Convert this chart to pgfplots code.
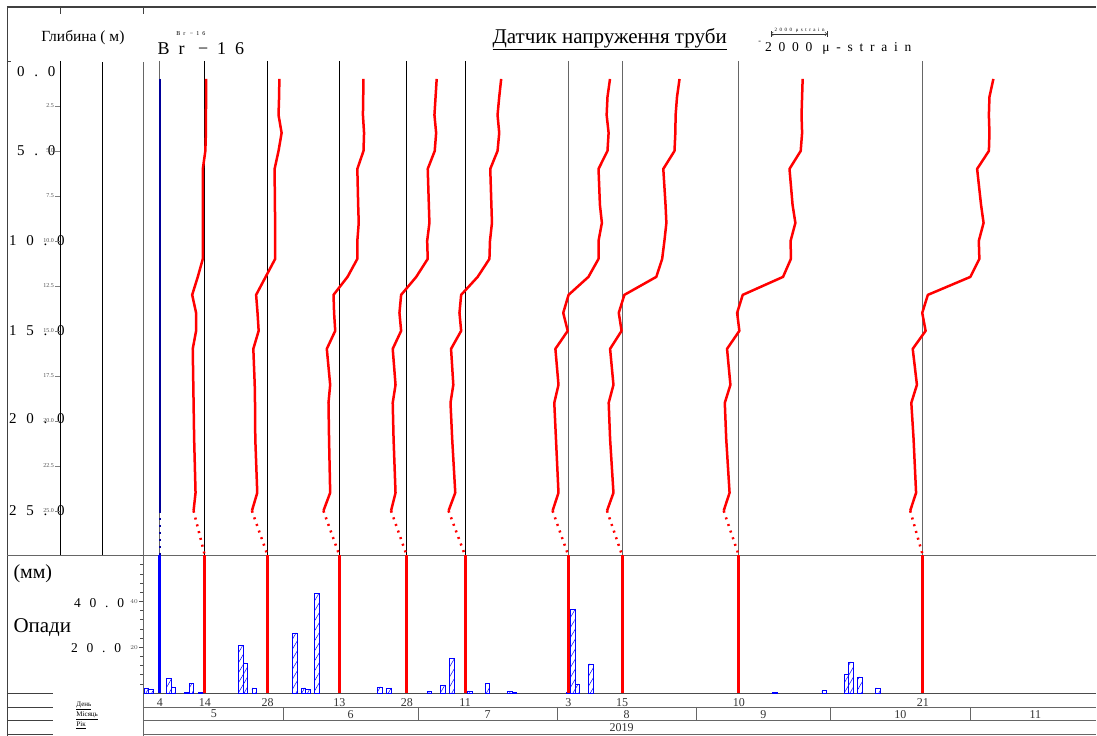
\documentclass[border=0pt]{standalone}
\usepackage{fontspec}
\setmainfont{Liberation Serif}
\newfontfamily\spaced[LetterSpace=50]{Liberation Serif}
\newfontfamily\wide[LetterSpace=65]{Liberation Serif}
\usepackage{pgfplots}
\usepackage{pgfplotstable}
\pgfplotsset{compat=1.18}
\usetikzlibrary{patterns.meta}

% strain profiles (micro-strain) against depth (m), one column per reading
\pgfplotstableread{
depth p1   p2   p3   p4   p5   p6   p7   p8   p9
1     50   420  860  1070 1290 1490 2050 2280 2520
2     50   410  850  1030 1220 1400 1960 2260 2380
3     40   390  840  990  1160 1370 1910 2240 2360
4     40   500  880  1050 1220 1440 1900 2260 2380
5     20   390  860  1000 1160 1400 1870 2210 2360
6     -70  250  640  750  900  1080 1470 1810 1940
8     -70  260  670  790  940  1130 1550 1920 2080
9     -70  270  690  810  960  1200 1580 2020 2170
10    -70  270  640  730  890  1080 1510 1850 2000
11    -70  270  640  750  870  1080 1430 1860 2020
12    -250 -70  290  340  450  720  1220 1580 1700
13    -450 -410 -210 -200 -140 10   80   140  180
14    -310 -360 -190 -260 -200 -180 -120 -60  -20
15    -310 -320 -150 -200 -140 -20  -20  20   100
16    -430 -510 -450 -500 -500 -460 -430 -420 -360
18    -410 -460 -330 -400 -420 -350 -310 -300 -210
19    -400 -450 -390 -500 -520 -500 -480 -500 -410
21    -380 -440 -370 -470 -460 -440 -430 -450 -330
24    -330 -370 -330 -400 -350 -350 -310 -330 -240
25    -400 -560 -570 -560 -590 -560 -540 -540 -450
}\profiles

% dotted part down to the pipe bottom
\pgfplotstableread{
depth p1   p2   p3   p4   p5   p6   p7   p8   p9
25    -400 -560 -570 -560 -590 -560 -540 -540 -450
27.48 0    0    0    0    0    0    0    0    0
}\tails

% daily rainfall (mm), day 0 = 1 May 2019
\pgfplotstableread{
day mm
0   2.2
1   1.4
5   6.2
6   2.6
9   0.4
10  4.1
12  0.4
21  20.8
22  13.1
24  2.2
33  26.2
35  2.2
36  1.6
38  43.4
52  2.6
54  2.2
63  0.7
66  3.2
68  15.3
72  0.7
76  4.1
81  0.7
82  0.4
94  0.4
95  36.7
96  3.9
99  12.7
140 0.3
151 1.1
156 8.0
157 13.5
159 7.0
163 2.2
}\rain

% micro-strain -> days on the time axis (2000 micro-strain = 56 px)
\newcommand{\strainscale}{0.00624}
\newcommand{\prof}[2]{%
  \addplot[red, line width=2.5pt, line join=round] table[x expr=#1+\thisrow{#2}*\strainscale, y=depth]{\profiles};
  \addplot[red, line width=2.5pt, dash pattern=on 2pt off 5pt] table[x expr=#1+\thisrow{#2}*\strainscale, y=depth]{\tails};
}

\begin{document}
\begin{tikzpicture}
\begin{scope}[x=1pt,y=1pt]
\path (0,0) rectangle (1097,736);

% frame
\draw[black!75, line width=1.2pt] (7,729) -- (1097,729);
\draw[black!75, line width=0.8pt] (7,729) -- (7,0);
\draw[black!75] (7,675) -- (11,675);
\draw[black!75] (60,729) -- (60,722);
\draw[black!75] (143,729) -- (143,722);
\draw[black!60, line width=0.8pt] (7,180.3) -- (1097,180.3);
\draw[black, line width=0.7pt] (102,180.3) -- (102,674);
\draw[black!60, line width=0.8pt] (143,0) -- (143,674);
\foreach \yy in {42.7,28.7,15,1} \draw[black!75, line width=0.8pt] (7,\yy) -- (53,\yy);
\foreach \yy in {28.7,15,1} \draw[black!60, line width=0.8pt] (143,\yy) -- (1097,\yy);
\foreach \xx in {283.5,418.2,557.4,696.6,831.3,970.5} \draw[black!60, line width=0.8pt] (\xx,28.7) -- (\xx,15);

% months and year
\foreach \xx/\m in {213.9/5,350.8/6,487.8/7,627/8,763.9/9,900.8/10,1036/11}
  \node[font=\fontsize{12}{12}\selectfont, black!80] at (\xx,21.5) {\m};
\node[font=\fontsize{12}{12}\selectfont, black!80] at (622,8) {2019};
\node[font=\fontsize{7}{7}\selectfont, anchor=west] at (73,30) {\underline{День}};
\node[font=\fontsize{7}{7}\selectfont, anchor=west] at (73,20) {\underline{Місяць}};
\node[font=\fontsize{7}{7}\selectfont, anchor=west] at (73,10) {\underline{Рік}};

% titles
\node[font=\fontsize{15.5}{15.5}\selectfont] at (83,698) {Глибина ( м)};
\node[font=\fontsize{21}{21}\selectfont] at (610,697) {\underline{Датчик напруження труби}};
\node[font=\spaced\fontsize{18}{18}\selectfont] at (201,687) {Br −16};
\node[font=\spaced\fontsize{6}{6}\selectfont] at (191,702) {Br −16};
\node[font=\spaced\fontsize{13.5}{13.5}\selectfont, anchor=west] at (762,688) {2000 μ-strain};
\node[font=\fontsize{8}{8}\selectfont] at (760,694) {-};
\node[font=\spaced\fontsize{5}{5}\selectfont] at (800,706) {2000 μstrain};
\draw[|<->|, black!80, line width=0.6pt] (771,702) -- (828,702);

% depth labels
\foreach \yy/\t in {664/0.0,585/5.0}
  \node[font=\wide\fontsize{15}{15}\selectfont, anchor=west, inner sep=0pt] at (17,\yy) {\t};
\foreach \yy/\t in {495/10.0,405/15.0,317/20.0,225/25.0}
  \node[font=\wide\fontsize{15}{15}\selectfont, anchor=west, inner sep=0pt] at (9,\yy) {\t};
\node[font=\fontsize{20}{20}\selectfont, anchor=west] at (10,162) {(мм)};
\node[font=\fontsize{21}{21}\selectfont, anchor=west] at (10,108) {Опади};
\node[font=\wide\fontsize{13.5}{13.5}\selectfont, anchor=west, inner sep=0pt] at (74,133) {40.0};
\node[font=\wide\fontsize{13.5}{13.5}\selectfont, anchor=west, inner sep=0pt] at (71,88) {20.0};
\end{scope}

% depth panel
\begin{axis}[
  at={(60pt,180.3pt)}, anchor=south west,
  width=1037pt, height=494.7pt, scale only axis,
  xmin=-19.27, xmax=211.68, ymin=0, ymax=27.48, y dir=reverse,
  axis x line=none, axis y line*=left,
  y axis line style={black, line width=0.7pt},
  ytick={2.5,5,7.5,10,12.5,15,17.5,20,22.5,25},
  yticklabels={2.5,5.0,7.5,10.0,12.5,15.0,17.5,20.0,22.5,25.0},
  yticklabel style={font=\fontsize{6}{6}\selectfont, black!70, inner sep=1pt},
  tick align=outside, major tick length=5pt,
  clip=false,
]
\addplot[black, line width=0.8pt, ycomb] coordinates {(13,27.48) (27,27.48) (43,27.48) (58,27.48) (71,27.48)};
\addplot[black!60, line width=1pt, ycomb] coordinates {(3,27.48) (94,27.48) (106,27.48) (132,27.48) (173,27.48)};
\addplot[blue!60!black, line width=2.5pt] coordinates {(3,1) (3,25)};
\addplot[blue!60!black, line width=2.5pt, dash pattern=on 2pt off 5pt] coordinates {(3,25) (3,27.48)};
\prof{13}{p1}
\prof{27}{p2}
\prof{43}{p3}
\prof{58}{p4}
\prof{71}{p5}
\prof{94}{p6}
\prof{106}{p7}
\prof{132}{p8}
\prof{173}{p9}
\end{axis}

% rainfall panel
\begin{axis}[
  at={(143pt,42.7pt)}, anchor=south west,
  width=954pt, height=137.6pt, scale only axis,
  xmin=-0.79, xmax=211.68, ymin=0, ymax=60,
  axis x line*=bottom, axis y line*=left,
  x axis line style={black!70, line width=0.8pt},
  y axis line style={draw=none},
  xtick={3,13,27,43,58,71,94,106,132,173},
  xticklabels={4,14,28,13,28,11,3,15,10,21},
  xticklabel style={font=\fontsize{12}{12}\selectfont, black!80, inner sep=1pt},
  x tick style={draw=none},
  ytick={20,40}, minor ytick={4,8,...,60},
  yticklabel style={font=\fontsize{6}{6}\selectfont, black!70, inner sep=1pt},
  tick align=outside, major tick length=4pt, minor tick length=2.5pt,
  y tick style={black!70},
  clip=false,
]
\addplot[ybar, bar width=1, bar shift=0pt, draw=blue, line width=0.6pt,
  pattern={Lines[angle=60,distance=5pt,line width=0.5pt]}, pattern color=blue]
  table[x=day, y=mm]{\rain};
\addplot[red, line width=3pt, ycomb] coordinates {(13,60) (27,60) (43,60) (58,60) (71,60) (94,60) (106,60) (132,60) (173,60)};
\addplot[blue, line width=3pt, ycomb] coordinates {(3,60)};
\end{axis}
\end{tikzpicture}
\end{document}
